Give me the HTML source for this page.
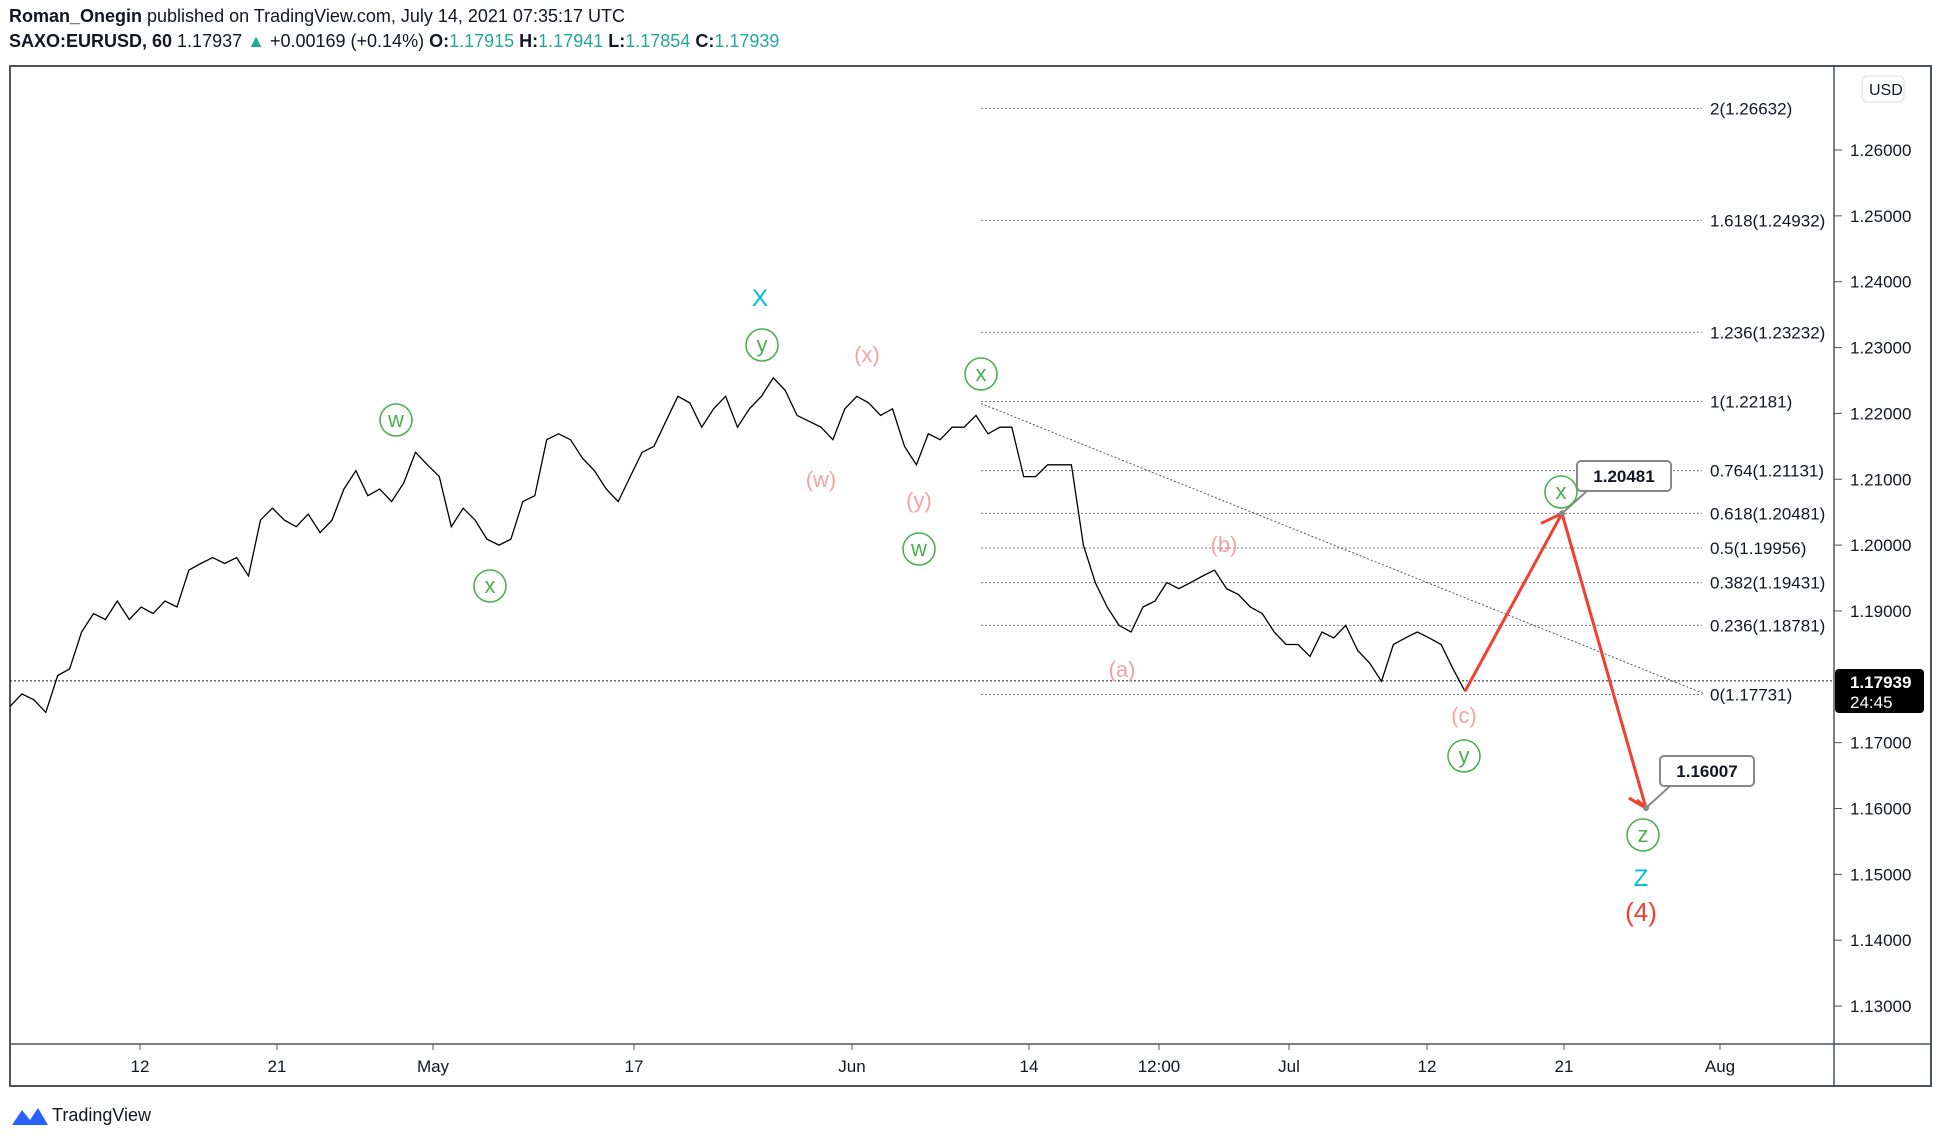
<!DOCTYPE html>
<html><head><meta charset="utf-8"><style>
body{margin:0;background:#fff;width:1942px;height:1142px;overflow:hidden;font-family:"Liberation Sans",sans-serif}
#hdr{position:absolute;left:9px;top:4px;font-size:18px;color:#131722;line-height:25px}
#hdr b{font-weight:bold}.g{color:#26a69a}
svg{position:absolute;left:0;top:0}
</style></head><body>
<div id="hdr">
<div><b>Roman_Onegin</b> published on TradingView.com, July 14, 2021 07:35:17 UTC</div>
<div><b>SAXO:EURUSD, 60</b> 1.17937 <span class="g">▲</span> +0.00169 (+0.14%) <b>O:</b><span class="g">1.17915</span> <b>H:</b><span class="g">1.17941</span> <b>L:</b><span class="g">1.17854</span> <b>C:</b><span class="g">1.17939</span></div>
</div>
<svg id="c" width="1942" height="1142" xmlns="http://www.w3.org/2000/svg"></svg>
<script>
const prices=[1.1755,1.1774,1.1765,1.1746,1.1802,1.1812,1.1868,1.1896,1.1887,1.1915,1.1887,1.1906,1.1896,1.1915,1.1906,1.1962,1.1972,1.1981,1.1972,1.1981,1.1953,1.2038,1.2056,1.2038,1.2028,1.2047,1.2019,1.2038,1.2085,1.2113,1.2075,1.2085,1.2066,1.2094,1.2141,1.2122,1.2104,1.2028,1.2056,1.2038,1.2009,1.2000,1.2009,1.2066,1.2075,1.2160,1.2169,1.2160,1.2132,1.2113,1.2085,1.2066,1.2104,1.2141,1.2150,1.2188,1.2226,1.2216,1.2179,1.2207,1.2226,1.2179,1.2207,1.2226,1.2254,1.2235,1.2197,1.2188,1.2179,1.2160,1.2207,1.2226,1.2216,1.2197,1.2207,1.2150,1.2122,1.2169,1.2160,1.2179,1.2179,1.2197,1.2169,1.2179,1.2179,1.2104,1.2104,1.2122,1.2122,1.2122,1.2000,1.1943,1.1906,1.1878,1.1868,1.1906,1.1915,1.1943,1.1934,1.1943,1.1953,1.1962,1.1934,1.1925,1.1906,1.1896,1.1868,1.1849,1.1849,1.1831,1.1868,1.1859,1.1878,1.1840,1.1821,1.1793,1.1849,1.1859,1.1868,1.1859,1.1849,1.1812,1.1778];
const priceTicks=[1.26,1.25,1.24,1.23,1.22,1.21,1.20,1.19,1.18,1.17,1.16,1.15,1.14,1.13];
const timeLabels=["12","21","May","17","Jun","14","12:00","Jul","12","21","Aug"];
const timeLabelX=[140,277,433,634,852,1029,1159,1289,1427,1564,1720];
const fibRatios=["2","1.618","1.236","1","0.764","0.618","0.5","0.382","0.236","0"];
const fibPrices=[1.26632,1.24932,1.23232,1.22181,1.21131,1.20481,1.19956,1.19431,1.18781,1.17731];
const forecast=[1.1778,1.20481,1.16007];
const lastPrice=1.17939;

const NS="http://www.w3.org/2000/svg",svg=document.getElementById('c');
const y=p=>150+(1.26-p)*6585;
const x=i=>10+i*(1465-10)/(prices.length-1);
function el(t,a,parent){const e=document.createElementNS(NS,t);for(const k in a)e.setAttribute(k,a[k]);(parent||svg).appendChild(e);return e;}
function txt(s,a){const e=el('text',a);e.textContent=s;return e;}

let f=el('rect',{x:10,y:66,width:1921,height:1020,fill:'none',stroke:'#50535e','stroke-width':2});

let l=el('line',{x1:1834,y1:66,x2:1834,y2:1086,stroke:'#50535e','stroke-width':1.5});

l=el('line',{x1:10,y1:1044,x2:1931,y2:1044,stroke:'#50535e','stroke-width':1.5});


priceTicks.forEach(p=>{const yy=y(p);
 let t=el('line',{x1:1834,y1:yy,x2:1842,y2:yy,stroke:'#50535e'});
 
 let s=txt(p.toFixed(5),{x:1850,y:yy+6,'font-size':17,fill:'#131722'});
 });
let ub=el('rect',{x:1862,y:76,width:42,height:26,rx:5,fill:'#fff',stroke:'#ddd'});

let ut=txt('USD',{x:1869,y:95,'font-size':16,fill:'#131722'});


timeLabels.forEach((s,i)=>{
 let t=el('line',{x1:timeLabelX[i],y1:1044,x2:timeLabelX[i],y2:1050,stroke:'#50535e'});
 
 let tt=txt(s,{x:timeLabelX[i],y:1072,'font-size':17,fill:'#131722','text-anchor':'middle'});
 });

fibPrices.forEach((p,i)=>{const yy=y(p);
 let g=el('line',{x1:981,y1:yy,x2:1702,y2:yy,stroke:'#787b86','stroke-dasharray':'2,2'});
 
 let t=txt(fibRatios[i]+'('+p.toFixed(5)+')',{x:1710,y:yy+6,'font-size':17,fill:'#131722'});
 });

let tl=el('line',{x1:981,y1:y(1.2215),x2:1703,y2:y(1.1775),stroke:'#555','stroke-dasharray':'2,2'});

let cp=el('line',{x1:10,y1:y(lastPrice),x2:1834,y2:y(lastPrice),stroke:'#131722','stroke-dasharray':'2,2'});


let pts=prices.map((p,i)=>x(i).toFixed(1)+','+y(p).toFixed(1)).join(' ');
let pl=el('polyline',{points:pts,fill:'none',stroke:'#000','stroke-width':1.3});


const fx=[1465,1562,1646];
let fp=el('polyline',{points:forecast.map((p,i)=>fx[i]+','+y(p)).join(' '),fill:'none',stroke:'#f23f30','stroke-width':3});

let a1=el('path',{d:`M1541,${y(forecast[1])+10} L1562,${y(forecast[1])} M1637,${y(forecast[2])-8} L1646,${y(forecast[2])} L1629,${y(forecast[2])-10}`,stroke:'#f23f30','stroke-width':3,fill:'none'});


function callout(px,py,bx,by,s,name){
 let g=el('g',{});
 el('path',{d:`M${px},${py} L${bx+10},${by+30} L${bx+25},${by+30}`,fill:'#fff',stroke:'#888','stroke-width':2},g);
 el('rect',{x:bx,y:by,width:94,height:30,rx:4,fill:'#fff',stroke:'#888','stroke-width':2},g);
 el('circle',{cx:px,cy:py,r:3,fill:'#888'},g);
 let t=el('text',{x:bx+47,y:by+21,'font-size':17,'font-weight':'bold','text-anchor':'middle',fill:'#131722'},g);t.textContent=s;}
callout(1562,y(forecast[1]),1577,461,'1.20481','callout-target-high');
callout(1646,y(forecast[2]),1660,756,'1.16007','callout-target-low');

function circ(cx,cy,s,name){let g=el('g',{});
 el('circle',{cx,cy,r:16,fill:'none',stroke:'#4caf50','stroke-width':1.6},g);
 let t=el('text',{x:cx,y:cy+7,'font-size':22,'text-anchor':'middle',fill:'#4caf50'},g);t.textContent=s;}
function lab(cx,cy,s,c,sz,name){let t=txt(s,{x:cx,y:cy+8,'font-size':sz,'text-anchor':'middle',fill:c});}
circ(396,420,'w','wave-w-circle-1');circ(490,586,'x','wave-x-circle-1');circ(762,345,'y','wave-y-circle-1');
circ(981,374,'x','wave-x-circle-2');circ(919,549,'w','wave-w-circle-2');circ(1464,756,'y','wave-y-circle-2');
circ(1561,492,'x','wave-x-circle-3');circ(1643,835,'z','wave-z-circle');
const pink='#f4a3a3';
lab(760,298,'X','#00bcd4',24,'wave-X-label');lab(867,354,'(x)',pink,22,'wave-x-sub');lab(821,479,'(w)',pink,22,'wave-w-sub');
lab(919,500,'(y)',pink,22,'wave-y-sub');lab(1224,544,'(b)',pink,22,'wave-b-label');lab(1122,669,'(a)',pink,22,'wave-a-label');
lab(1464,715,'(c)',pink,22,'wave-c-label');lab(1641,878,'Z','#00bcd4',24,'wave-Z-label');lab(1641,913,'(4)','#f23f30',26,'wave-4-label');

let bg=el('rect',{x:1835,y:669,width:89,height:44,rx:4,fill:'#000'});

let b1=txt('1.17939',{x:1850,y:688,'font-size':17,'font-weight':'bold',fill:'#fff'});
let b2=txt('24:45',{x:1850,y:708,'font-size':17,fill:'#fff'});

let lg=el('path',{d:'M12,1125 L22,1110 L30,1120 L38,1108 L48,1125 Z',fill:'#2962ff'});

let lt=txt('TradingView',{x:52,y:1121,'font-size':18,fill:'#131722'});
</script>
</body></html>
